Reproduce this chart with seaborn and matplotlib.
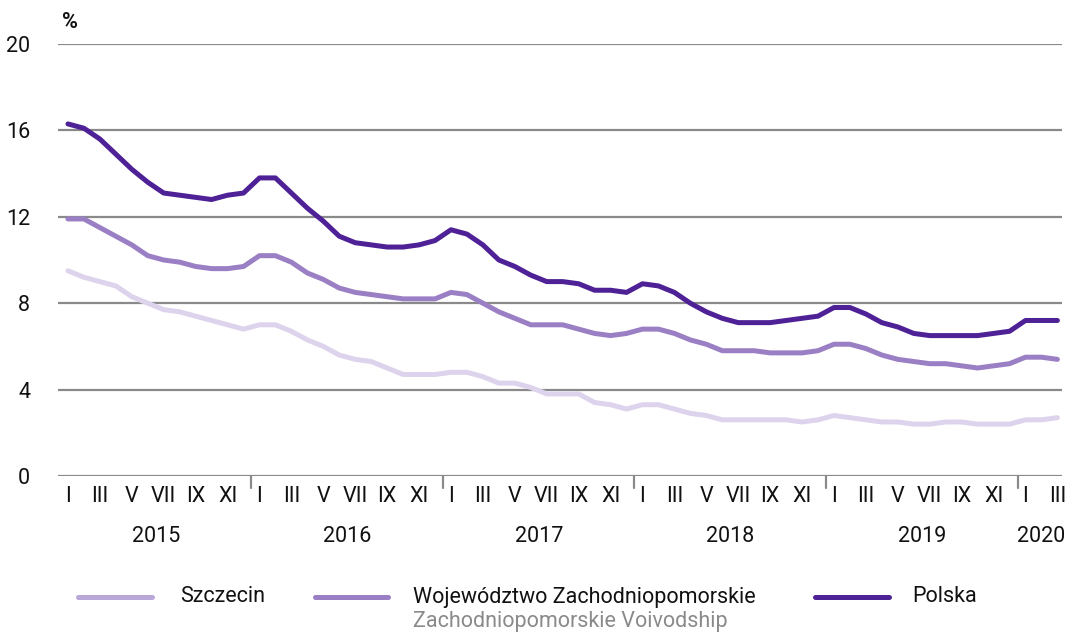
import matplotlib
matplotlib.use("Agg")
import matplotlib.pyplot as plt
from matplotlib.lines import Line2D
import numpy as np
import pandas as pd
import seaborn as sns

# Dane miesięczne I 2015 - III 2020
years = [2015, 2016, 2017, 2018, 2019, 2020]
month_labels = ["I", "II", "III", "IV", "V", "VI", "VII", "VIII", "IX", "X", "XI", "XII"]

szczecin = [
    9.5, 9.2, 9.0, 8.8, 8.3, 8.0, 7.7, 7.6, 7.4, 7.2, 7.0, 6.8,
    7.0, 7.0, 6.7, 6.3, 6.0, 5.6, 5.4, 5.3, 5.0, 4.7, 4.7, 4.7,
    4.8, 4.8, 4.6, 4.3, 4.3, 4.1, 3.8, 3.8, 3.8, 3.4, 3.3, 3.1,
    3.3, 3.3, 3.1, 2.9, 2.8, 2.6, 2.6, 2.6, 2.6, 2.6, 2.5, 2.6,
    2.8, 2.7, 2.6, 2.5, 2.5, 2.4, 2.4, 2.5, 2.5, 2.4, 2.4, 2.4,
    2.6, 2.6, 2.7,
]
wojewodztwo = [
    11.9, 11.9, 11.5, 11.1, 10.7, 10.2, 10.0, 9.9, 9.7, 9.6, 9.6, 9.7,
    10.2, 10.2, 9.9, 9.4, 9.1, 8.7, 8.5, 8.4, 8.3, 8.2, 8.2, 8.2,
    8.5, 8.4, 8.0, 7.6, 7.3, 7.0, 7.0, 7.0, 6.8, 6.6, 6.5, 6.6,
    6.8, 6.8, 6.6, 6.3, 6.1, 5.8, 5.8, 5.8, 5.7, 5.7, 5.7, 5.8,
    6.1, 6.1, 5.9, 5.6, 5.4, 5.3, 5.2, 5.2, 5.1, 5.0, 5.1, 5.2,
    5.5, 5.5, 5.4,
]
polska = [
    16.3, 16.1, 15.6, 14.9, 14.2, 13.6, 13.1, 13.0, 12.9, 12.8, 13.0, 13.1,
    13.8, 13.8, 13.1, 12.4, 11.8, 11.1, 10.8, 10.7, 10.6, 10.6, 10.7, 10.9,
    11.4, 11.2, 10.7, 10.0, 9.7, 9.3, 9.0, 9.0, 8.9, 8.6, 8.6, 8.5,
    8.9, 8.8, 8.5, 8.0, 7.6, 7.3, 7.1, 7.1, 7.1, 7.2, 7.3, 7.4,
    7.8, 7.8, 7.5, 7.1, 6.9, 6.6, 6.5, 6.5, 6.5, 6.5, 6.6, 6.7,
    7.2, 7.2, 7.2,
]

series_names = ["Szczecin", "Województwo Zachodniopomorskie", "Polska"]
line_colors = ["#ddd3ec", "#9b7fc4", "#4e2196"]
legend_colors = ["#b9a7d8", "#9b7fc4", "#4e2196"]

months = np.arange(len(polska))
df = pd.DataFrame({
    "miesiac": np.tile(months, 3),
    "wartosc": szczecin + wojewodztwo + polska,
    "seria": np.repeat(series_names, len(months)),
})

sns.set_style("white")
plt.rcParams["font.family"] = ["Roboto", "DejaVu Sans"]
FS = 15.5
TXT = "#111111"

fig = plt.figure(figsize=(10.74, 6.35), dpi=100)
ax = fig.add_axes([0.054, 0.2504, 0.935, 0.6803])

sns.lineplot(
    data=df, x="miesiac", y="wartosc", hue="seria",
    hue_order=series_names, palette=line_colors,
    linewidth=3.6, legend=False, ax=ax,
    solid_capstyle="round", solid_joinstyle="round",
)

ax.set_xlim(-0.625, 62.3)
ax.set_ylim(0, 20)
ax.set_yticks([0, 4, 8, 12, 16, 20])
ax.yaxis.grid(True, color="#8a8a8a", linewidth=1.6)
ax.set_axisbelow(True)
for s in ax.spines.values():
    s.set_visible(False)
ax.tick_params(axis="y", length=0, pad=20, labelsize=FS, labelcolor=TXT)
ax.set_xlabel("")
ax.set_ylabel("")

# Etykiety miesięcy (co drugi miesiąc)
tick_pos = [m for m in months if m % 2 == 0]
ax.set_xticks(tick_pos)
ax.set_xticklabels([month_labels[m % 12] for m in tick_pos])
ax.tick_params(axis="x", length=0, pad=7, labelsize=FS, labelcolor=TXT)

# Separatory lat i podpisy lat
for i, year in enumerate(years):
    start = i * 12
    end = min(start + 11, months[-1])
    if i > 0:
        ax.plot([start - 0.5, start - 0.5], [0, -0.028], transform=ax.get_xaxis_transform(),
                color="#8a8a8a", linewidth=1.6, clip_on=False)
    center = (start + end) / 2 if year != 2020 else start + 1
    ax.text(center, -0.14, str(year), transform=ax.get_xaxis_transform(),
            ha="center", va="center", fontsize=FS, color=TXT)

fig.text(0.058, 0.966, "%", fontsize=FS, fontweight="bold", ha="left", va="center", color=TXT)

# Legenda
leg_y = 1 - 597 / 635
handles = [(78, 152), (315, 388), (815, 889)]
text_x = [180, 413, 912]
for (x0, x1), tx, name, col in zip(handles, text_x, series_names, legend_colors):
    fig.add_artist(Line2D([x0 / 1074, x1 / 1074], [leg_y, leg_y], color=col,
                          linewidth=3.6, solid_capstyle="round"))
    fig.text(tx / 1074, leg_y, name, fontsize=FS, ha="left", va="center", color=TXT)
fig.text(413 / 1074, 1 - 622 / 635, "Zachodniopomorskie Voivodship", fontsize=FS,
         ha="left", va="center", color="#8a8a8a")

fig.savefig("out.png", dpi=100)
